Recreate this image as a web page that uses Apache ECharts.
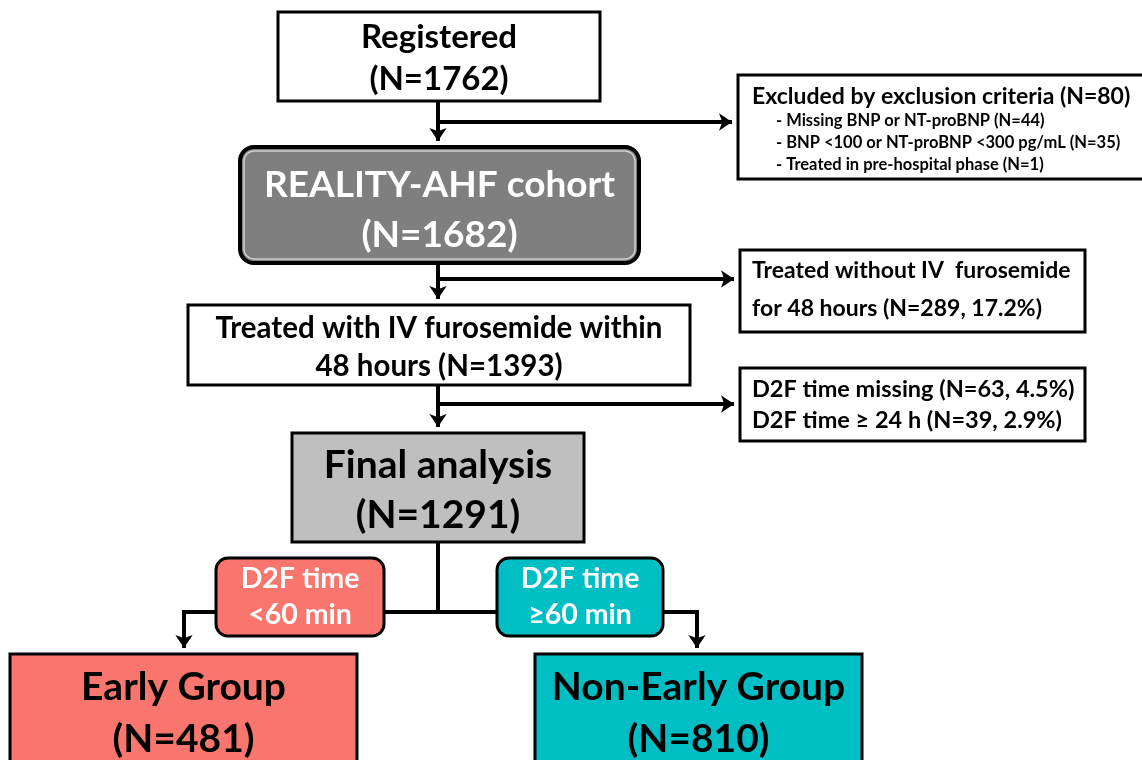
<!DOCTYPE html>
<html>
<head>
<meta charset="utf-8">
<title>REALITY-AHF flow</title>
<script src="https://cdn.jsdelivr.net/npm/echarts@6/dist/echarts.min.js"></script>
<style>
  html, body { margin: 0; padding: 0; background: #fff; }
  #main { width: 1142px; height: 760px; }
</style>
</head>
<body>
<div id="main"></div>
<script>
// flow steps (main column)
const stepNames = ['Registered', 'REALITY-AHF cohort', 'Treated with IV furosemide within\n48 hours', 'Final analysis', 'Early Group', 'Non-Early Group']
const stepCounts = [1762, 1682, 1393, 1291, 481, 810]

// excluded patients
const excludedTitle = 'Excluded by exclusion criteria'
const excludedTotal = 80
const excludedReasons = ['Missing BNP or NT-proBNP', 'BNP <100 or NT-proBNP <300 pg/mL', 'Treated in pre-hospital phase']
const excludedReasonCounts = [44, 35, 1]
const noFurosemideText = ['Treated without IV  furosemide', 'for 48 hours']
const noFurosemideN = 289
const noFurosemidePct = 17.2
const d2fExcludedText = ['D2F time missing', 'D2F time \u2265 24 h']
const d2fExcludedN = [63, 39]
const d2fExcludedPct = [4.5, 2.9]

// split criteria
const splitLabels = ['D2F time\n<60 min', 'D2F time\n\u226560 min']

// layout (pixel space of the 1142x760 canvas): [x0, y0, x1, y1]
const stepBoxes = [
  [278, 12, 600, 101],
  [240, 147, 639, 263],
  [188, 305, 690, 385],
  [292, 433, 584, 542],
  [10, 654, 357, 790],
  [535, 654, 862, 790]
]
const sideBoxes = [
  [738, 75, 1150, 179],
  [740, 250, 1085, 332],
  [740, 368, 1085, 441]
]
const splitBoxes = [
  [216, 558, 384, 636],
  [497, 558, 663, 636]
]
const spineX = 438
const branchY = [122, 279, 404]
const splitY = 612
const dropX = [184, 697]

const FONT = 'Lato, "Open Sans", sans-serif'
const stepStyles = [
  { fill: '#ffffff', text: '#000000', size: 33, lh: 42, ty: 58, r: 0 },
  { fill: '#7f7f7f', text: '#ffffff', size: 37, lh: 50, ty: 210, r: 14, double: true },
  { fill: '#ffffff', text: '#000000', size: 29.5, lh: 38, ty: 347, r: 0 },
  { fill: '#bfbfbf', text: '#000000', size: 39, lh: 50, ty: 490, r: 0 },
  { fill: '#f8766d', text: '#000000', size: 39, lh: 52, ty: 713, r: 0 },
  { fill: '#00bfc4', text: '#000000', size: 39, lh: 52, ty: 713, r: 0 }
]
const splitColors = ['#f8766d', '#00bfc4']

function stepLabel (i) {
  const sep = stepNames[i].indexOf('\n') >= 0 ? ' ' : '\n'
  return stepNames[i] + sep + '(N=' + stepCounts[i] + ')'
}

function rectOf (api) {
  const p0 = api.coord([api.value(0), api.value(1)])
  const p1 = api.coord([api.value(2), api.value(3)])
  return { x: p0[0], y: p0[1], width: p1[0] - p0[0], height: p1[1] - p0[1] }
}

function renderStep (params, api) {
  const i = params.dataIndex
  const st = stepStyles[i]
  const r = rectOf(api)
  const cx = r.x + r.width / 2
  const cy = api.coord([0, st.ty])[1]
  const children = [{
    type: 'rect',
    shape: { x: r.x, y: r.y, width: r.width, height: r.height, r: st.r },
    style: { fill: st.fill, stroke: '#000', lineWidth: st.double ? 4 : 3 }
  }]
  if (st.double) {
    children.push({
      type: 'rect',
      shape: { x: r.x + 4, y: r.y + 4, width: r.width - 8, height: r.height - 8, r: st.r - 4 },
      style: { fill: null, stroke: '#d0d0d0', lineWidth: 1.5 }
    })
  }
  children.push({
    type: 'text',
    style: {
      text: stepLabel(i),
      x: cx,
      y: cy,
      align: 'center',
      verticalAlign: 'middle',
      fill: st.text,
      font: 'bold ' + st.size + 'px ' + FONT,
      lineHeight: st.lh
    }
  })
  return { type: 'group', children: children }
}

function sideLines (i) {
  if (i === 0) {
    return [
      { t: excludedTitle + ' (N=' + excludedTotal + ')', dx: 14, y: 97, size: 23 },
      ...excludedReasons.map((s, k) => ({ t: '- ' + s + ' (N=' + excludedReasonCounts[k] + ')', dx: 38, y: 121 + k * 22, size: 16.5 }))
    ]
  }
  if (i === 1) {
    return [
      { t: noFurosemideText[0], dx: 12, y: 271, size: 23 },
      { t: noFurosemideText[1] + ' (N=' + noFurosemideN + ', ' + noFurosemidePct + '%)', dx: 12, y: 309, size: 23 }
    ]
  }
  return d2fExcludedText.map((s, k) => ({ t: s + ' (N=' + d2fExcludedN[k] + ', ' + d2fExcludedPct[k] + '%)', dx: 12, y: 389 + k * 31, size: 23.5 }))
}

function renderSide (params, api) {
  const r = rectOf(api)
  const children = [{
    type: 'rect',
    shape: r,
    style: { fill: '#fff', stroke: '#000', lineWidth: 3 }
  }]
  sideLines(params.dataIndex).forEach(l => {
    children.push({
      type: 'text',
      style: {
        text: l.t,
        x: r.x + l.dx,
        y: api.coord([0, l.y])[1],
        align: 'left',
        verticalAlign: 'middle',
        fill: '#000',
        font: 'bold ' + l.size + 'px ' + FONT
      }
    })
  })
  return { type: 'group', children: children }
}

function renderSplit (params, api) {
  const i = params.dataIndex
  const r = rectOf(api)
  return {
    type: 'group',
    children: [{
      type: 'rect',
      shape: { x: r.x, y: r.y, width: r.width, height: r.height, r: 12 },
      style: { fill: splitColors[i], stroke: '#000', lineWidth: 3 }
    }, {
      type: 'text',
      style: {
        text: splitLabels[i],
        x: r.x + r.width / 2,
        y: r.y + r.height / 2,
        align: 'center',
        verticalAlign: 'middle',
        fill: '#fff',
        font: 'bold 28.5px ' + FONT,
        lineHeight: 36
      }
    }]
  }
}

// connectors, built from the box layout
const ARROW = 6
const arrowLinks = []
const plainLinks = []
for (let i = 0; i < 3; i++) {
  arrowLinks.push({ coords: [[spineX, stepBoxes[i][3]], [spineX, stepBoxes[i + 1][1] - ARROW]] })
  arrowLinks.push({ coords: [[spineX, branchY[i]], [sideBoxes[i][0] - ARROW, branchY[i]]] })
}
plainLinks.push({ coords: [[spineX, stepBoxes[3][3]], [spineX, splitY]] })
plainLinks.push({ coords: [[dropX[0] - 2, splitY], [dropX[1] + 2, splitY]] })
arrowLinks.push({ coords: [[dropX[0], splitY], [dropX[0], stepBoxes[4][1] - ARROW]] })
arrowLinks.push({ coords: [[dropX[1], splitY], [dropX[1], stepBoxes[5][1] - ARROW]] })

const chart = echarts.init(document.getElementById('main'))
chart.setOption({
  backgroundColor: '#ffffff',
  animation: false,
  grid: { left: 0, right: 0, top: 0, bottom: 0 },
  xAxis: { type: 'value', min: 0, max: 1142, show: false },
  yAxis: { type: 'value', min: 0, max: 760, inverse: true, show: false },
  series: [
    {
      type: 'lines',
      coordinateSystem: 'cartesian2d',
      symbol: 'none',
      lineStyle: { color: '#000', width: 4, opacity: 1 },
      data: plainLinks,
      z: 1
    },
    {
      type: 'lines',
      coordinateSystem: 'cartesian2d',
      symbol: ['none', 'arrow'],
      symbolSize: [12, 13],
      lineStyle: { color: '#000', width: 4, opacity: 1 },
      data: arrowLinks,
      z: 1
    },
    {
      type: 'custom',
      coordinateSystem: 'cartesian2d',
      renderItem: renderStep,
      data: stepBoxes,
      z: 2
    },
    {
      type: 'custom',
      coordinateSystem: 'cartesian2d',
      renderItem: renderSide,
      data: sideBoxes,
      z: 2
    },
    {
      type: 'custom',
      coordinateSystem: 'cartesian2d',
      renderItem: renderSplit,
      data: splitBoxes,
      z: 2
    }
  ]
})
window.addEventListener('resize', () => chart.resize())
</script>
</body>
</html>
